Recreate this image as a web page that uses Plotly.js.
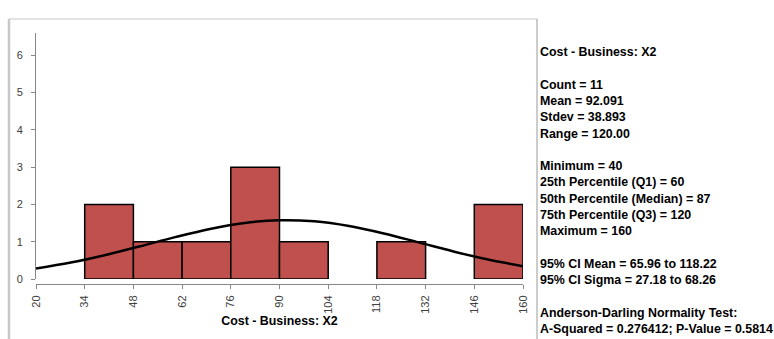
<!DOCTYPE html>
<html>
<head>
<meta charset="utf-8">
<script src="https://cdn.plot.ly/plotly-3.0.1.min.js"></script>
<style>html,body{margin:0;padding:0;background:#fff;}#chart{width:774px;height:339px;}</style>
</head>
<body>
<div id="chart"></div>
<script>
// ---- data ----
const binCenters = [41, 55, 69, 83, 97, 111, 125, 139, 153];
const binCounts = [2, 1, 1, 3, 1, 0, 1, 0, 2];
const binWidth = 14;
const curveX = [20, 30, 40, 50, 60, 70, 80, 90, 100, 110, 120, 130, 140, 150, 160];
const curveY = [0.283, 0.442, 0.644, 0.880, 1.124, 1.344, 1.505, 1.577, 1.547, 1.421, 1.221, 0.982, 0.740, 0.521, 0.344];
const xTicks = [20, 34, 48, 62, 76, 90, 104, 118, 132, 146, 160];
const yTicks = [0, 1, 2, 3, 4, 5, 6];
const axisTitle = "Cost - Business: X2";
const statsLines = [
  "Cost - Business: X2",
  "",
  "Count = 11",
  "Mean = 92.091",
  "Stdev = 38.893",
  "Range = 120.00",
  "",
  "Minimum = 40",
  "25th Percentile (Q1) = 60",
  "50th Percentile (Median) = 87",
  "75th Percentile (Q3) = 120",
  "Maximum = 160",
  "",
  "95% CI Mean = 65.96 to 118.22",
  "95% CI Sigma = 27.18 to 68.26",
  "",
  "Anderson-Darling Normality Test:",
  "A-Squared = 0.276412; P-Value = 0.5814"
];

// ---- layout helpers ----
const W = 774, H = 339;
const M = {l: 36, r: 251, t: 33, b: 55};
const PW = W - M.l - M.r, PH = H - M.t - M.b;
const px = x => (x - M.l) / PW;
const py = y => (M.t + PH - y) / PH;

const bars = {
  type: 'bar',
  x: binCenters,
  y: binCounts,
  width: binCenters.map(() => binWidth),
  marker: {
    color: '#C0504D',
    line: {color: '#000000', width: binCounts.map(c => c > 0 ? 1.5 : 0)}
  },
  hoverinfo: 'x+y',
  showlegend: false
};

const curve = {
  type: 'scatter',
  mode: 'lines',
  x: curveX,
  y: curveY,
  line: {color: '#000000', width: 2.5, shape: 'spline', smoothing: 1},
  showlegend: false
};

const annotations = [];
statsLines.forEach((t, i) => {
  if (!t) return;
  annotations.push({
    xref: 'paper', yref: 'paper',
    x: px(538), y: py(52 + i * 16.3),
    xanchor: 'left', yanchor: 'middle',
    showarrow: false,
    text: t,
    font: {family: 'Liberation Sans, Arial, sans-serif', size: 12.4, color: '#000000', weight: 700}
  });
});

const shapes = [
  {type: 'line', xref: 'paper', yref: 'paper', x0: px(9), x1: px(537), y0: py(19), y1: py(19), line: {color: '#D9D9D9', width: 1.5}, layer: 'below'},
  {type: 'line', xref: 'paper', yref: 'paper', x0: px(9), x1: px(9), y0: py(19), y1: py(345), line: {color: '#C8C8C8', width: 2.5}, layer: 'below'},
  {type: 'line', xref: 'paper', yref: 'paper', x0: px(537), x1: px(537), y0: py(19), y1: py(345), line: {color: '#9A9A9A', width: 1}, layer: 'below'}
];

const tickFont = {family: 'Liberation Sans, Arial, sans-serif', size: 11, color: '#404040'};

const layout = {
  width: W, height: H,
  margin: M,
  paper_bgcolor: '#ffffff',
  plot_bgcolor: '#ffffff',
  bargap: 0,
  showlegend: false,
  xaxis: {
    range: [20, 160],
    anchor: 'free', position: 0,
    tickmode: 'array', tickvals: xTicks, ticktext: xTicks.map(String),
    tickangle: -90,
    ticks: 'outside', ticklen: 4, tickcolor: '#868686', tickwidth: 1,
    ticklabelstandoff: 2,
    showline: true, linecolor: '#868686', linewidth: 1,
    showgrid: false, zeroline: false,
    tickfont: tickFont,
    title: {text: axisTitle, standoff: 3, font: {family: 'Liberation Sans, Arial, sans-serif', size: 12.4, color: '#000000', weight: 700}}
  },
  yaxis: {
    domain: [5 / PH, 1],
    range: [0, 6.6],
    tickmode: 'array', tickvals: yTicks, ticktext: yTicks.map(String),
    ticks: 'outside', ticklen: 4, tickcolor: '#868686', tickwidth: 1,
    ticklabelstandoff: 6,
    showline: true, linecolor: '#868686', linewidth: 1,
    showgrid: false, zeroline: false,
    tickfont: tickFont
  },
  annotations: annotations,
  shapes: shapes
};

Plotly.newPlot('chart', [bars, curve], layout, {displayModeBar: false, staticPlot: true});
</script>
</body>
</html>
